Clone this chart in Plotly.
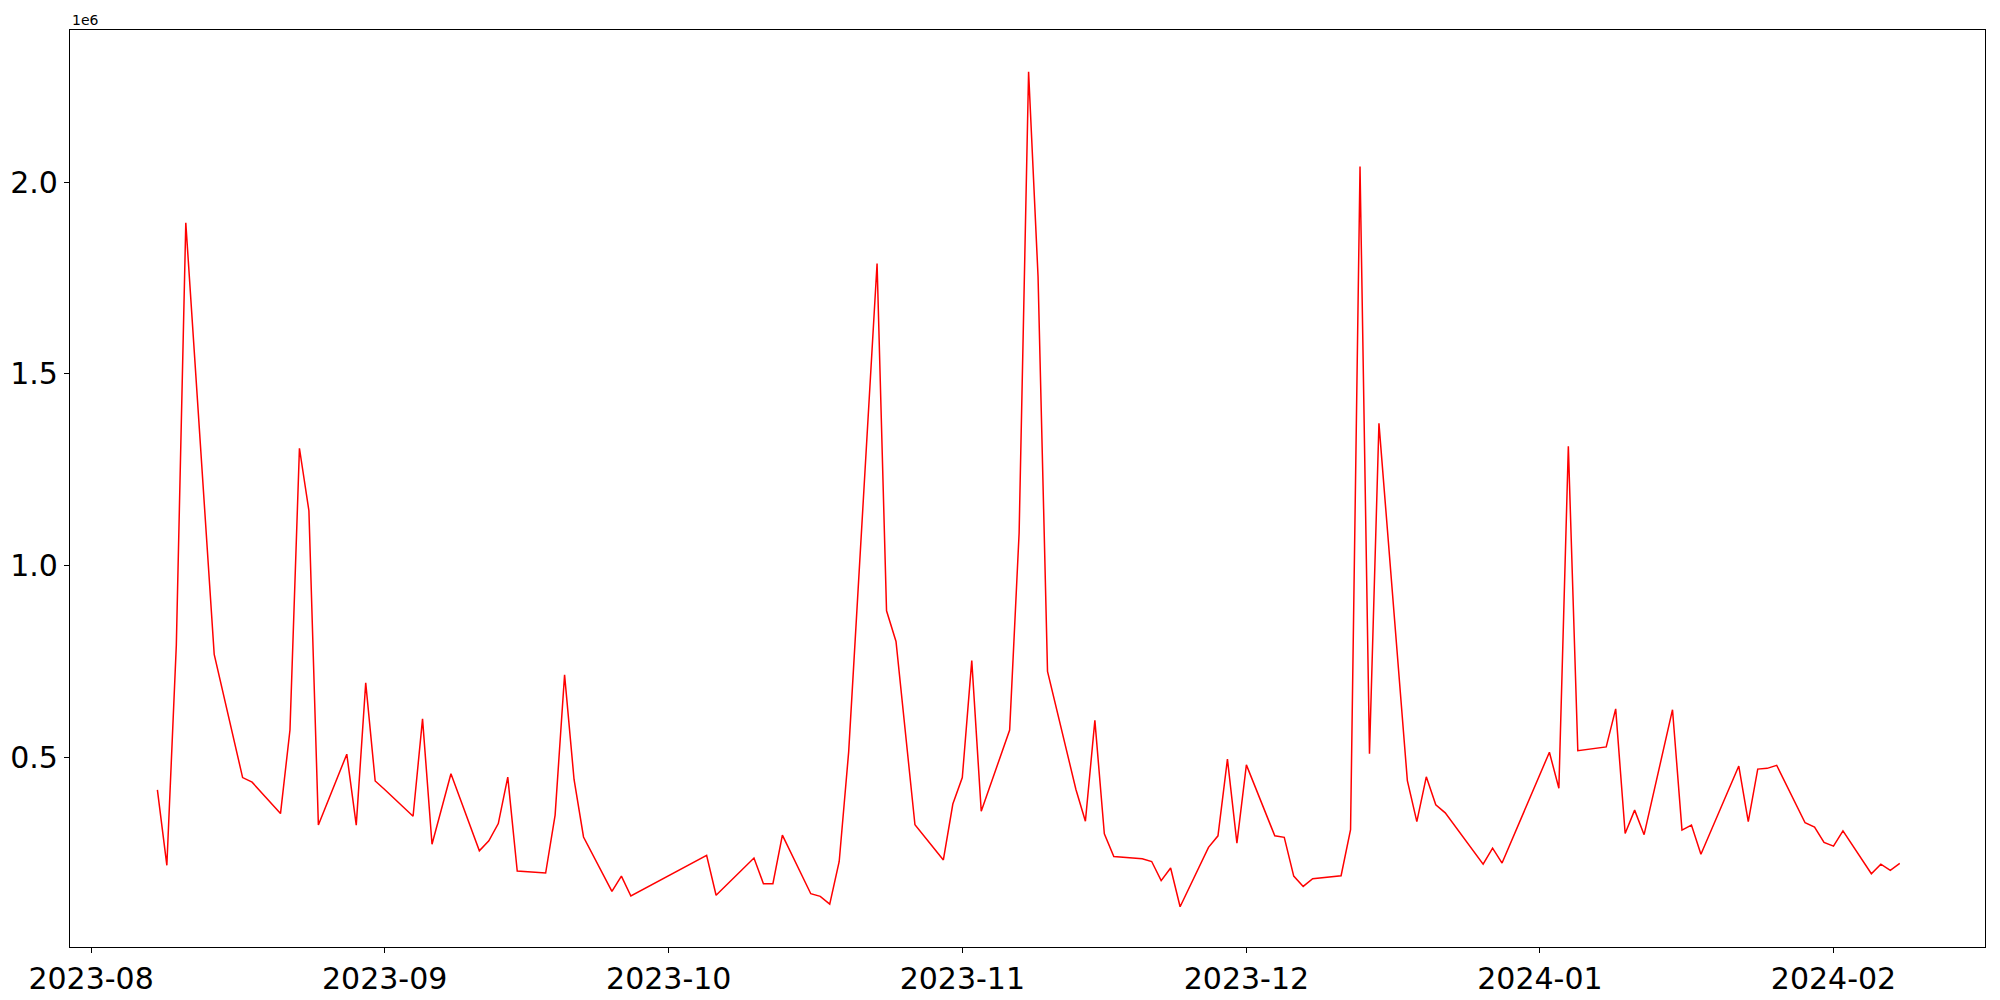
import plotly.graph_objects as go

dates = [
    "2023-08-08", "2023-08-09", "2023-08-10", "2023-08-11", "2023-08-14", "2023-08-16",
    "2023-08-17", "2023-08-18", "2023-08-21", "2023-08-22", "2023-08-23", "2023-08-24",
    "2023-08-25", "2023-08-28", "2023-08-29", "2023-08-30", "2023-08-31", "2023-09-01",
    "2023-09-04", "2023-09-05", "2023-09-06", "2023-09-08", "2023-09-11", "2023-09-12",
    "2023-09-13", "2023-09-14", "2023-09-15", "2023-09-18", "2023-09-19", "2023-09-20",
    "2023-09-21", "2023-09-22", "2023-09-25", "2023-09-26", "2023-09-27", "2023-10-05",
    "2023-10-06", "2023-10-10", "2023-10-11", "2023-10-12", "2023-10-13", "2023-10-16",
    "2023-10-17", "2023-10-18", "2023-10-19", "2023-10-20", "2023-10-23", "2023-10-24",
    "2023-10-25", "2023-10-27", "2023-10-30", "2023-10-31", "2023-11-01", "2023-11-02",
    "2023-11-03", "2023-11-06", "2023-11-07", "2023-11-08", "2023-11-09", "2023-11-10",
    "2023-11-13", "2023-11-14", "2023-11-15", "2023-11-16", "2023-11-17", "2023-11-20",
    "2023-11-21", "2023-11-22", "2023-11-23", "2023-11-24", "2023-11-27", "2023-11-28",
    "2023-11-29", "2023-11-30", "2023-12-01", "2023-12-04", "2023-12-05", "2023-12-06",
    "2023-12-07", "2023-12-08", "2023-12-11", "2023-12-12", "2023-12-13", "2023-12-14",
    "2023-12-15", "2023-12-18", "2023-12-19", "2023-12-20", "2023-12-21", "2023-12-22",
    "2023-12-26", "2023-12-27", "2023-12-28", "2024-01-02", "2024-01-03", "2024-01-04",
    "2024-01-05", "2024-01-08", "2024-01-09", "2024-01-10", "2024-01-11", "2024-01-12",
    "2024-01-15", "2024-01-16", "2024-01-17", "2024-01-18", "2024-01-22", "2024-01-23",
    "2024-01-24", "2024-01-25", "2024-01-26", "2024-01-29", "2024-01-30", "2024-01-31",
    "2024-02-01", "2024-02-02", "2024-02-05", "2024-02-06", "2024-02-07", "2024-02-08",
]

values = [
    415000, 218000, 793000, 1894000, 768000, 558000,
    447000, 435000, 353000, 571000, 1306000, 1143000,
    323000, 508000, 323000, 694000, 438000, 416000,
    346000, 600000, 273000, 457000, 256000, 282000,
    327000, 448000, 203000, 198000, 349000, 715000,
    442000, 292000, 150000, 190000, 138000, 244000,
    140000, 237000, 170000, 170000, 297000, 144000,
    137000, 117000, 228000, 514000, 1788000, 882000,
    802000, 324000, 232000, 378000, 447000, 752000,
    359000, 571000, 1085000, 2288000, 1754000, 724000,
    416000, 333000, 596000, 300000, 241000, 235000,
    228000, 178000, 211000, 110000, 265000, 295000,
    495000, 276000, 480000, 295000, 291000, 190000,
    163000, 183000, 191000, 311000, 2041000, 509000,
    1371000, 439000, 332000, 449000, 376000, 355000,
    221000, 263000, 224000, 513000, 419000, 1311000,
    517000, 527000, 626000, 301000, 362000, 298000,
    624000, 310000, 323000, 247000, 477000, 332000,
    469000, 471000, 479000, 329000, 318000, 278000,
    268000, 308000, 196000, 221000, 205000, 223000,
]

y_ticks = [500000, 1000000, 1500000, 2000000]
y_tick_labels = ["0.5", "1.0", "1.5", "2.0"]

fig = go.Figure()
fig.add_trace(go.Scatter(x=dates, y=values, mode="lines",
                         line=dict(color="red", width=1.5)))

axis_style = dict(
    showline=True, linecolor="black", linewidth=1.2, mirror=True,
    showgrid=False, zeroline=False,
    ticks="outside", ticklen=5, tickwidth=1.2, tickcolor="black",
    tickfont=dict(family="DejaVu Sans", size=30, color="black"),
)

fig.update_xaxes(
    type="date",
    range=["2023-07-29 18:30", "2024-02-17"],
    dtick="M1", tick0="2023-08-01", tickformat="%Y-%m",
    **axis_style,
)
fig.update_yaxes(
    range=[5000, 2397000],
    tickvals=y_ticks, ticktext=y_tick_labels,
    **axis_style,
)

fig.add_annotation(text="1e6", xref="paper", yref="paper", x=0, y=1,
                   xanchor="left", yanchor="bottom", showarrow=False,
                   font=dict(family="DejaVu Sans", size=14, color="black"))

# page body adds an 8px offset, margins compensate for it
fig.update_layout(
    width=2000, height=1000,
    margin=dict(l=62, r=23, t=22, b=61, autoexpand=False),
    plot_bgcolor="white", paper_bgcolor="white",
    showlegend=False,
)

fig.write_html("out.html")
